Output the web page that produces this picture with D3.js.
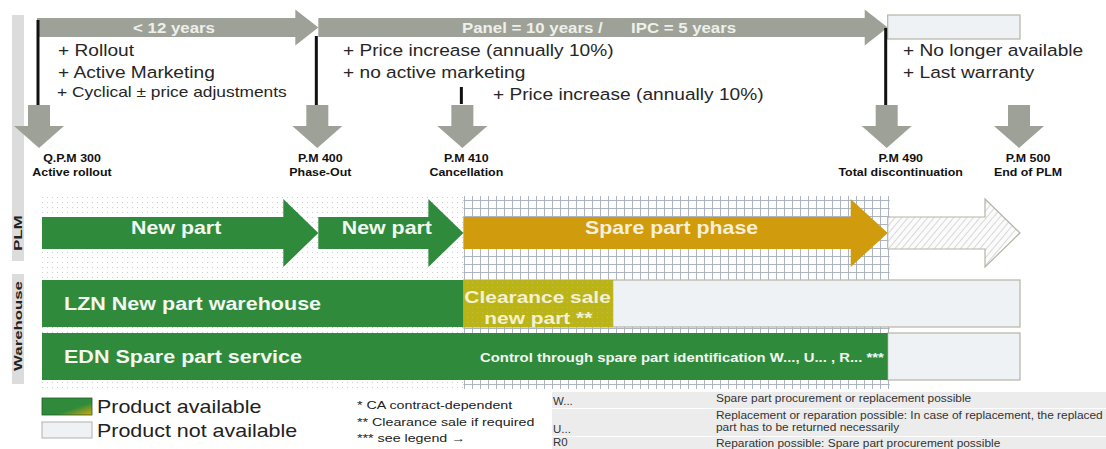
<!DOCTYPE html>
<html>
<head>
<meta charset="utf-8">
<script src="https://cdn.jsdelivr.net/npm/d3@7"></script>
<style>
  body { margin: 0; background: #fff; }
  text { font-family: "Liberation Sans", Arial, sans-serif; }
</style>
</head>
<body>
<svg id="chart" width="1106" height="449"></svg>
<script>
// milestones along the life cycle (timeline 0..100)
var milestoneCodes = ['Q.P.M 300', 'P.M 400', 'P.M 410', 'P.M 490', 'P.M 500'];
var milestoneNames = ['Active rollout', 'Phase-Out', 'Cancellation', 'Total discontinuation', 'End of PLM'];
var milestoneAt = [0, 28.4, 43.2, 86.5, 100];

var spanLabels = ['< 12 years', 'Panel = 10 years /', 'IPC = 5 years'];
var noteLines = [
  ['+ Rollout', '+ Active Marketing'],
  ['+ Price increase (annually 10%)', '+ no active marketing'],
  ['+ No longer available', '+ Last warranty']
];
var smallNote = '+ Cyclical \u00b1 price adjustments';
var lateNote = '+ Price increase (annually 10%)';

var sideLabels = ['PLM', 'Warehouse'];
var plmPhases = ['New part', 'New part', 'Spare part phase', ''];
var warehouseRows = ['LZN New part warehouse', 'EDN Spare part service'];
var warehouseAvailableUntil = [43.2, 86.5];
var clearanceUntil = 58.5;
var clearanceLines = ['Clearance sale', 'new part **'];
var controlNote = 'Control through spare part identification W..., U... ,  R... ***';

var legendItems = ['Product available', 'Product not available'];
var footnotes = ['* CA contract-dependent', '** Clearance sale if required', '*** see legend \u2192'];
var codeKeys = ['W...', 'U...', 'R0'];
var codeTexts = [
  ['Spare part procurement or replacement possible'],
  ['Replacement or reparation possible: In case of replacement, the replaced', 'part has to be returned necessarily'],
  ['Reparation possible: Spare part procurement possible']
];

var GREEN = '#2f8a3c', GOLD = '#d09b0c', OLIVE = '#bab416', GRAYARROW = '#9ea197',
    EMPTY = '#eff2f4', EMPTYLINE = '#b3b5a5';

var svg = d3.select('#chart');
var x = d3.scaleLinear().domain([0, 100]).range([40, 1020]);

function hArrow(x0, x1, yc, body, head, headLen) {
  var hx = x1 - headLen;
  return d3.line()([[x0, yc - body], [hx, yc - body], [hx, yc - head], [x1, yc],
    [hx, yc + head], [hx, yc + body], [x0, yc + body]]) + 'Z';
}
function vArrow(xc, y0, y1, body, head, headLen) {
  var hy = y1 - headLen;
  return d3.line()([[xc - body, y0], [xc + body, y0], [xc + body, hy], [xc + head, hy],
    [xc, y1], [xc - head, hy], [xc - body, hy]]) + 'Z';
}
// the original slide text is a bit wider than Liberation Sans, so stretch it
function label(g, px, py, str, size, o) {
  o = o || {};
  return g.append('text')
    .attr('transform', 'translate(' + px + ',' + py + ')' + (o.rot ? ' rotate(' + o.rot + ')' : '') +
      ' scale(' + (o.sx || 1.18) + ',1)')
    .attr('text-anchor', o.anchor || 'start')
    .attr('font-size', size)
    .attr('font-weight', o.bold ? 'bold' : null)
    .attr('fill', o.fill || '#262626')
    .text(str);
}

// patterns
var defs = svg.append('defs');
var dots = defs.append('pattern').attr('id', 'dots').attr('patternUnits', 'userSpaceOnUse')
  .attr('width', 5).attr('height', 5);
dots.append('circle').attr('cx', 2.5).attr('cy', 2.5).attr('r', 0.6).attr('fill', '#c6c6c6');
var grid = defs.append('pattern').attr('id', 'grid').attr('patternUnits', 'userSpaceOnUse')
  .attr('width', 8).attr('height', 8);
grid.append('path').attr('d', 'M0 0.5H8M0.5 0V8').attr('stroke', '#a4adbb').attr('stroke-width', 0.9);
var hatch = defs.append('pattern').attr('id', 'hatch').attr('patternUnits', 'userSpaceOnUse')
  .attr('width', 5).attr('height', 5).attr('patternTransform', 'rotate(40)');
hatch.append('rect').attr('width', 5).attr('height', 5).attr('fill', '#fbfbfb');
hatch.append('line').attr('x1', 0).attr('y1', 0).attr('x2', 0).attr('y2', 5)
  .attr('stroke', '#c9c9c9').attr('stroke-width', 1.4);
var grad = defs.append('linearGradient').attr('id', 'avail')
  .attr('x1', 0).attr('y1', 0).attr('x2', 1).attr('y2', 1);
grad.append('stop').attr('offset', 0).attr('stop-color', GREEN);
grad.append('stop').attr('offset', 0.62).attr('stop-color', GREEN);
grad.append('stop').attr('offset', 1).attr('stop-color', '#e0a806');

// side labels
var side = svg.append('g');
side.append('rect').attr('x', 12).attr('y', 15).attr('width', 12).attr('height', 246).attr('fill', '#dcdcdc');
side.append('rect').attr('x', 12).attr('y', 274).attr('width', 12).attr('height', 110).attr('fill', '#dcdcdc');
label(side, 22, 233, sideLabels[0], 10.5, { rot: -90, anchor: 'middle', bold: true, fill: '#222', sx: 1.6 });
label(side, 22, 326, sideLabels[1], 10.5, { rot: -90, anchor: 'middle', bold: true, fill: '#222', sx: 1.6 });

// top span arrows
var topG = svg.append('g');
topG.append('path').attr('d', hArrow(x(milestoneAt[0]) - 3, x(milestoneAt[1]), 27.5, 9.5, 18, 23)).attr('fill', GRAYARROW);
topG.append('path').attr('d', hArrow(x(milestoneAt[1]), x(milestoneAt[3]), 27.5, 9.5, 18, 23)).attr('fill', GRAYARROW);
topG.append('rect').attr('x', x(milestoneAt[3])).attr('y', 15)
  .attr('width', x(milestoneAt[4]) - x(milestoneAt[3])).attr('height', 24)
  .attr('fill', EMPTY).attr('stroke', EMPTYLINE).attr('stroke-width', 1.2);
var spanOpt = { bold: true, fill: '#eef0ea', sx: 1.16 };
label(topG, 174, 33, spanLabels[0], 14.5, Object.assign({ anchor: 'middle' }, spanOpt));
label(topG, 462, 33, spanLabels[1], 14.5, spanOpt);
label(topG, 631, 33, spanLabels[2], 14.5, spanOpt);

// black connectors
var lines = [[milestoneAt[0], 20, 107], [milestoneAt[1], 36, 107], [milestoneAt[2], 87, 104], [milestoneAt[3], 28, 107]];
svg.selectAll('line.conn').data(lines).enter().append('line').attr('class', 'conn')
  .attr('x1', function (d) { return x(d[0]) - 2; }).attr('x2', function (d) { return x(d[0]) - 2; })
  .attr('y1', function (d) { return d[1]; }).attr('y2', function (d) { return d[2]; })
  .attr('stroke', '#111').attr('stroke-width', 3);

// milestone down arrows + labels
var labelDx = [32, 2, 3, 13, 8];
svg.selectAll('path.down').data(milestoneAt).enter().append('path').attr('class', 'down')
  .attr('d', function (d) { return vArrow(x(d) - 1, 105, 148, 11, 25, 22); })
  .attr('fill', GRAYARROW);
var ml = svg.append('g');
milestoneAt.forEach(function (d, i) {
  var cx = x(d) + labelDx[i];
  label(ml, cx, 162, milestoneCodes[i], 11.5, { anchor: 'middle', bold: true, fill: '#111', sx: 1.08 });
  label(ml, cx, 176, milestoneNames[i], 11.5, { anchor: 'middle', bold: true, fill: '#111', sx: 1.08 });
});

// notes
var noteX = [58, 343, 903];
var notes = svg.append('g');
noteLines.forEach(function (ls, i) {
  ls.forEach(function (t, j) {
    label(notes, noteX[i], 56 + j * 22, t, 16.5, { sx: 1.16 });
  });
});
label(notes, 57, 97, smallNote, 14, { sx: 1.24 });
label(notes, 493, 100, lateNote, 16.5, { sx: 1.16 });

// backgrounds for the phase area
svg.append('rect').attr('x', 40).attr('y', 196).attr('width', x(milestoneAt[2]) - 40).attr('height', 194).attr('fill', 'url(#dots)');
svg.append('rect').attr('x', x(milestoneAt[2])).attr('y', 196)
  .attr('width', x(milestoneAt[3]) - x(milestoneAt[2]) + 2).attr('height', 193).attr('fill', 'url(#grid)');

// PLM arrows
var plmY = 233;
var bounds = milestoneAt;
var plm = svg.append('g');
plmPhases.forEach(function (name, i) {
  var x0 = x(bounds[i]) + (i === 0 ? 2 : 0), x1 = x(bounds[i + 1]);
  var fill = i < 2 ? GREEN : (i === 2 ? GOLD : 'url(#hatch)');
  var p = plm.append('path').attr('d', hArrow(x0, x1, plmY, 16, 34, i === 2 ? 37 : 35)).attr('fill', fill);
  if (i === 3) p.attr('stroke', EMPTYLINE).attr('stroke-width', 1.2);
  if (name) {
    label(plm, (x0 + x1) / 2 - 4, plmY + 1, name, 17.5,
      { anchor: 'middle', bold: true, fill: i === 2 ? '#f6f0da' : '#f2f7f0', sx: 1.22 });
  }
});

// warehouse rows
var rowY = [280, 333], rowH = 47;
var wh = svg.append('g');
warehouseRows.forEach(function (name, i) {
  var xe = x(warehouseAvailableUntil[i]);
  wh.append('rect').attr('x', xe).attr('y', rowY[i]).attr('width', x(100) - xe).attr('height', rowH)
    .attr('fill', EMPTY).attr('stroke', EMPTYLINE).attr('stroke-width', 1.2);
  wh.append('rect').attr('x', 42).attr('y', rowY[i]).attr('width', xe - 42).attr('height', rowH).attr('fill', GREEN);
  label(wh, 64, rowY[i] + 30, name, 17.5, { bold: true, fill: '#f2f7f0', sx: 1.23 });
});
// clearance sale
var cx0 = x(warehouseAvailableUntil[0]), cx1 = x(clearanceUntil);
wh.append('rect').attr('x', cx0).attr('y', rowY[0]).attr('width', cx1 - cx0).attr('height', rowH).attr('fill', OLIVE);
wh.append('rect').attr('x', cx0).attr('y', rowY[0]).attr('width', cx1 - cx0).attr('height', rowH).attr('fill', 'url(#dots)').attr('opacity', 0.5);
label(wh, cx0 + 1, rowY[0] + 23, clearanceLines[0], 17, { bold: true, fill: '#f4f1d2', sx: 1.23 });
label(wh, (cx0 + cx1) / 2, rowY[0] + 44, clearanceLines[1], 17, { anchor: 'middle', bold: true, fill: '#f4f1d2', sx: 1.23 });
label(wh, 480, rowY[1] + 29, controlNote, 12, { bold: true, fill: '#f2f7f0', sx: 1.24 });

// legend
var lg = svg.append('g');
lg.append('rect').attr('x', 42).attr('y', 398).attr('width', 50).attr('height', 17)
  .attr('fill', 'url(#avail)').attr('stroke', '#1f5e2a').attr('stroke-width', 0.8);
lg.append('rect').attr('x', 42).attr('y', 422).attr('width', 50).attr('height', 16)
  .attr('fill', EMPTY).attr('stroke', '#b0b0b0').attr('stroke-width', 1);
legendItems.forEach(function (t, i) {
  label(lg, 97, 413 + i * 24, t, 18.5, { fill: '#222', sx: 1.16 });
});
footnotes.forEach(function (t, i) {
  label(lg, 357, 409 + i * 16.5, t, 11.5, { fill: '#222', sx: 1.24 });
});

// code table
var rowTops = [392, 409, 437], rowHs = [16, 27, 12];
var tbl = svg.append('g');
rowTops.forEach(function (ty, i) {
  tbl.append('rect').attr('x', 552).attr('y', ty).attr('width', 554).attr('height', rowHs[i]).attr('fill', '#ececec');
  label(tbl, 553, ty + rowHs[i] - 3, codeKeys[i], 10, { fill: '#333', sx: 1.15 });
  codeTexts[i].forEach(function (t, j) {
    label(tbl, 716, ty + 10 + j * 12, t, 10, { fill: '#333', sx: 1.19 });
  });
});
</script>
</body>
</html>
